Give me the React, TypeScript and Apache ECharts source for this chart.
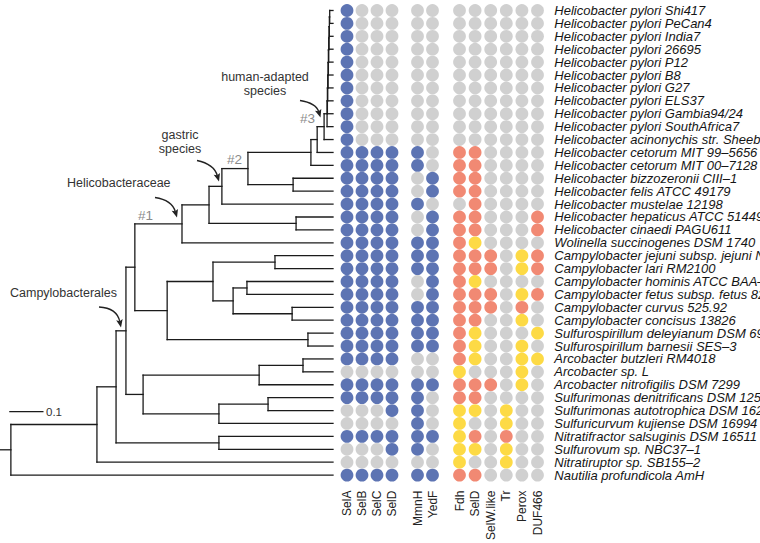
import React, { useEffect, useRef } from "react";
import * as echarts from "echarts";

// ---------- data ----------
const SPECIES = [
  "Helicobacter pylori Shi417",
  "Helicobacter pylori PeCan4",
  "Helicobacter pylori India7",
  "Helicobacter pylori 26695",
  "Helicobacter pylori P12",
  "Helicobacter pylori B8",
  "Helicobacter pylori G27",
  "Helicobacter pylori ELS37",
  "Helicobacter pylori Gambia94/24",
  "Helicobacter pylori SouthAfrica7",
  "Helicobacter acinonychis str. Sheeba",
  "Helicobacter cetorum MIT 99–5656",
  "Helicobacter cetorum MIT 00–7128",
  "Helicobacter bizzozeronii CIII–1",
  "Helicobacter felis ATCC 49179",
  "Helicobacter mustelae 12198",
  "Helicobacter hepaticus ATCC 51449",
  "Helicobacter cinaedi PAGU611",
  "Wolinella succinogenes DSM 1740",
  "Campylobacter jejuni subsp. jejuni NCTC 11168",
  "Campylobacter lari RM2100",
  "Campylobacter hominis ATCC BAA–381",
  "Campylobacter fetus subsp. fetus 82–40",
  "Campylobacter curvus 525.92",
  "Campylobacter concisus 13826",
  "Sulfurospirillum deleyianum DSM 6946",
  "Sulfurospirillum barnesii SES–3",
  "Arcobacter butzleri RM4018",
  "Arcobacter sp. L",
  "Arcobacter nitrofigilis DSM 7299",
  "Sulfurimonas denitrificans DSM 1251",
  "Sulfurimonas autotrophica DSM 16294",
  "Sulfuricurvum kujiense DSM 16994",
  "Nitratifractor salsuginis DSM 16511",
  "Sulfurovum sp. NBC37–1",
  "Nitratiruptor sp. SB155–2",
  "Nautilia profundicola AmH",
];

const GENES_1 = ["SelA", "SelB", "SelC", "SelD"];
const GENES_2 = ["MmnH", "YedF"];
const GENES_3 = ["Fdh", "SelD", "SelW.like", "Tr", "Perox", "DUF466"];

// B = present (blue), G = absent (grey), R = selenoprotein (red), Y = Cys homolog (yellow)
const PROFILES = [
  "BGGG GG GGGGGG",
  "BGGG GG GGGGGG",
  "BGGG GG GGGGGG",
  "BGGG GG GGGGGG",
  "BGGG GG GGGGGG",
  "BGGG GG GGGGGG",
  "BGGG GG GGGGGG",
  "BGGG GG GGGGGG",
  "BGGG GG GGGGGG",
  "BGGG GG GGGGGG",
  "BGGG GG GGGGGG",
  "BBBB BG RRGGGG",
  "BBBB BG RRGGGG",
  "BBBB GB RRGGGG",
  "BBBB GB RRGGGG",
  "BBBB BG GRGGGG",
  "BBBB GB RRGGGR",
  "BBBB GB RRGGGR",
  "BBBB BB RYGGGG",
  "BBBB BB RRRGYR",
  "BBBB BB RRRGYR",
  "BBBB GB RYGGGG",
  "BBBB GB RRRGYR",
  "BBBB BB RRRGRG",
  "BBBB BB RRGGYG",
  "BBBB BB RYGGGY",
  "BBBB BB RYGGYG",
  "BBBB GG RYGGYY",
  "GGGG GG YGGGYG",
  "BBBB BB RRRGYG",
  "BBBB BG RRGGGG",
  "GGGB BG YYGYGG",
  "GGGG BG YGGYGG",
  "BBBB BB YRGRGG",
  "GGGB BG YYGYGG",
  "GGGG GG YGGYGG",
  "BBBB BB RRGGGG",
];

// tree: [node id, depth (substitutions/site from the left edge), children (node ids or row indices)]
const TIP_DEPTH = 1.01;
const ROOT_STUB_START = 0;
const TREE_NODES: [string, number, (string | number)[]][] = [
  ["root", 0.033, ["n97", 36]],
  ["n97", 0.294, ["n116", 35]],
  ["n116", 0.352, ["n126", "n219b"]],
  ["n126", 0.382, ["n135", "n143"]],
  ["n135", 0.409, ["n182", "n167"]],
  ["n182", 0.552, ["n209", 18]],
  ["n209", 0.634, ["n222", "n296"]],
  ["n222", 0.673, ["n248", 15]],
  ["n248", 0.752, ["n311", "n293"]],
  ["n311", 0.943, ["n317", 12]],
  ["n317", 0.962, ["n324", 11]],
  ["n324", 0.983, ["p9", 10]],
  ["p9", 0.992, ["p8", 9]],
  ["p8", 0.993, ["p7", 8]],
  ["p7", 0.994, ["p6", 7]],
  ["p6", 0.995, ["p5", 6]],
  ["p5", 0.996, ["p4", 5]],
  ["p4", 0.997, ["p3", 4]],
  ["p3", 0.998, ["p2", 3]],
  ["p2", 0.999, ["p1", 2]],
  ["p1", 1.0, [0, 1]],
  ["n293", 0.889, [13, 14]],
  ["n296", 0.898, [16, 17]],
  ["n167", 0.507, ["n213", "n308"]],
  ["n213", 0.646, ["n275", "n233"]],
  ["n275", 0.834, [19, 20]],
  ["n233", 0.707, ["n247", "n292"]],
  ["n247", 0.749, [21, 22]],
  ["n292", 0.886, [23, 24]],
  ["n308", 0.934, [25, 26]],
  ["n143", 0.434, ["n259", "n219a"]],
  ["n259", 0.786, ["n303", 29]],
  ["n303", 0.919, [27, 28]],
  ["n219a", 0.664, ["n268", 32]],
  ["n268", 0.813, [30, 31]],
  ["n219b", 0.664, [33, 34]],
];

const SCALE_BAR = { start: 0.03, length: 0.1, row: 31.08, label: "0.1" };

// ---------- styling ----------
const COLORS: Record<string, string> = {
  B: "#3551a0",
  G: "#c4c4c4",
  R: "#ee6b50",
  Y: "#fcd116",
};
const FONT = "Liberation Sans";
const GRID_TOP = 4.04;
const GRID_HEIGHT = 477.5;

function buildTreeSegments() {
  const map = new Map<string, [string, number, (string | number)[]]>();
  TREE_NODES.forEach((n) => map.set(n[0], n));
  const memo = new Map<string, number>();
  const yOf = (c: string | number): number => {
    if (typeof c === "number") return c;
    if (memo.has(c)) return memo.get(c)!;
    const n = map.get(c)!;
    const ys = n[2].map(yOf);
    const y = (Math.min(...ys) + Math.max(...ys)) / 2;
    memo.set(c, y);
    return y;
  };
  const segs: number[][] = [];
  TREE_NODES.forEach(([id, depth, children]) => {
    const ys = children.map(yOf);
    segs.push([depth, Math.min(...ys), depth, Math.max(...ys)]);
    children.forEach((c, i) => {
      const x2 = typeof c === "number" ? TIP_DEPTH : map.get(c)![1];
      segs.push([depth, ys[i], x2, ys[i]]);
    });
  });
  const rootY = yOf("root");
  segs.push([ROOT_STUB_START, rootY, map.get("root")![1], rootY]);
  return segs;
}

function arrow(x1: number, y1: number, cpx: number, cpy: number, x2: number, y2: number) {
  const dx = x2 - cpx;
  const dy = y2 - cpy;
  const len = Math.sqrt(dx * dx + dy * dy);
  const ux = dx / len;
  const uy = dy / len;
  const L = 8;
  const W = 3.3;
  const bx = x2 - ux * L;
  const by = y2 - uy * L;
  return [
    {
      type: "bezierCurve",
      shape: { x1, y1, x2: bx + ux * 2, y2: by + uy * 2, cpx1: cpx, cpy1: cpy },
      style: { stroke: "#222", lineWidth: 1.3, fill: null },
    },
    {
      type: "polygon",
      shape: {
        points: [
          [x2, y2],
          [bx - uy * W, by + ux * W],
          [bx + ux * 1.5, by + uy * 1.5],
          [bx + uy * W, by - ux * W],
        ],
      },
      style: { fill: "#222" },
    },
  ];
}

function label(text: string, x: number, y: number, opts: any = {}) {
  return {
    type: "text",
    x,
    y,
    style: {
      text,
      fontSize: opts.fontSize ?? 12.5,
      fontFamily: FONT,
      fill: opts.fill ?? "#333",
      align: opts.align ?? "left",
      verticalAlign: "middle",
    },
  };
}

export default function App() {
  const ref = useRef<HTMLDivElement>(null);
  useEffect(() => {
    if (!ref.current) return;
    const chart = echarts.init(ref.current, null, { renderer: "svg" });
    const rows = SPECIES.length;
    const groups = [GENES_1, GENES_2, GENES_3];
    const grids = [
      { left: 339.5, width: 60 },
      { left: 410, width: 30 },
      { left: 451.7, width: 93.6 },
    ];
    const offsets = [0, 5, 8];

    const segments = buildTreeSegments();
    segments.push([SCALE_BAR.start, SCALE_BAR.row, SCALE_BAR.start + SCALE_BAR.length, SCALE_BAR.row]);

    const scatterSeries = groups.map((genes, gi) => {
      const data: any[] = [];
      PROFILES.forEach((p, r) => {
        genes.forEach((_, c) => {
          const code = p.charAt(offsets[gi] + c);
          data.push({ value: [c, r], itemStyle: { color: COLORS[code] } });
        });
      });
      return {
        type: "scatter",
        xAxisIndex: gi + 1,
        yAxisIndex: gi + 1,
        symbol: "circle",
        symbolSize: 12.8,
        silent: true,
        data,
      };
    });

    const option: any = {
      animation: false,
      grid: [
        { left: 0, top: GRID_TOP, width: 333, height: GRID_HEIGHT, outerBoundsMode: "none", containLabel: false },
        ...grids.map((g) => ({
          left: g.left,
          top: GRID_TOP,
          width: g.width,
          height: GRID_HEIGHT,
          outerBoundsMode: "none",
          containLabel: false,
        })),
      ],
      xAxis: [
        { gridIndex: 0, type: "value", min: 0, max: TIP_DEPTH, show: false },
        ...groups.map((genes, gi) => ({
          gridIndex: gi + 1,
          type: "category",
          data: genes,
          position: "bottom",
          axisLine: { show: false },
          axisTick: { show: false },
          splitLine: { show: false },
          axisLabel: {
            rotate: 90,
            margin: 9,
            fontSize: 12,
            lineHeight: 12,
            fontFamily: FONT,
            color: "#222",
            interval: 0,
          },
        })),
      ],
      yAxis: [
        { gridIndex: 0, type: "value", min: -0.5, max: rows - 0.5, inverse: true, show: false },
        ...groups.map((_, gi) => ({
          gridIndex: gi + 1,
          type: "category",
          data: SPECIES,
          inverse: true,
          position: "right",
          show: gi === 2,
          axisLine: { show: false },
          axisTick: { show: false },
          splitLine: { show: false },
          axisLabel: {
            show: gi === 2,
            interval: 0,
            margin: 9,
            fontSize: 13,
            lineHeight: 12.5,
            fontStyle: "italic",
            fontFamily: FONT,
            color: "#151515",
          },
        })),
      ],
      series: [
        {
          type: "custom",
          xAxisIndex: 0,
          yAxisIndex: 0,
          silent: true,
          clip: false,
          encode: { x: [0, 2], y: [1, 3] },
          data: segments,
          renderItem: (params: any, api: any) => {
            const p1 = api.coord([api.value(0), api.value(1)]);
            const p2 = api.coord([api.value(2), api.value(3)]);
            return {
              type: "line",
              shape: { x1: p1[0], y1: p1[1], x2: p2[0], y2: p2[1] },
              style: { stroke: "#1b1b1b", lineWidth: 1.3, lineCap: "square" },
            };
          },
        },
        ...scatterSeries,
      ],
      graphic: [
        label(SCALE_BAR.label, 46, 412, { fontSize: 11.5, fill: "#333" }),
        label("Campylobacterales", 10, 293),
        ...arrow(99, 307, 117, 308, 121, 327.5),
        label("Helicobacteraceae", 67, 183),
        ...arrow(155, 197.5, 172, 200, 177, 217.5),
        label("gastric", 180, 135, { align: "center" }),
        label("species", 180, 149, { align: "center" }),
        ...arrow(197, 160.5, 214, 164, 219, 181.5),
        label("human-adapted", 265, 77, { align: "center" }),
        label("species", 265, 91, { align: "center" }),
        ...arrow(300, 100.5, 316, 103, 320.5, 117.5),
        label("#1", 138, 215, { fontSize: 13.5, fill: "#8a8a8a" }),
        label("#2", 227, 159, { fontSize: 13.5, fill: "#8a8a8a" }),
        label("#3", 300, 118, { fontSize: 13.5, fill: "#8a8a8a" }),
      ],
    };
    chart.setOption(option);
    return () => chart.dispose();
  }, []);
  return (
    <div
      ref={ref}
      style={{ position: "absolute", left: 0, top: 0, width: 760, height: 543, background: "#fff" }}
    />
  );
}
